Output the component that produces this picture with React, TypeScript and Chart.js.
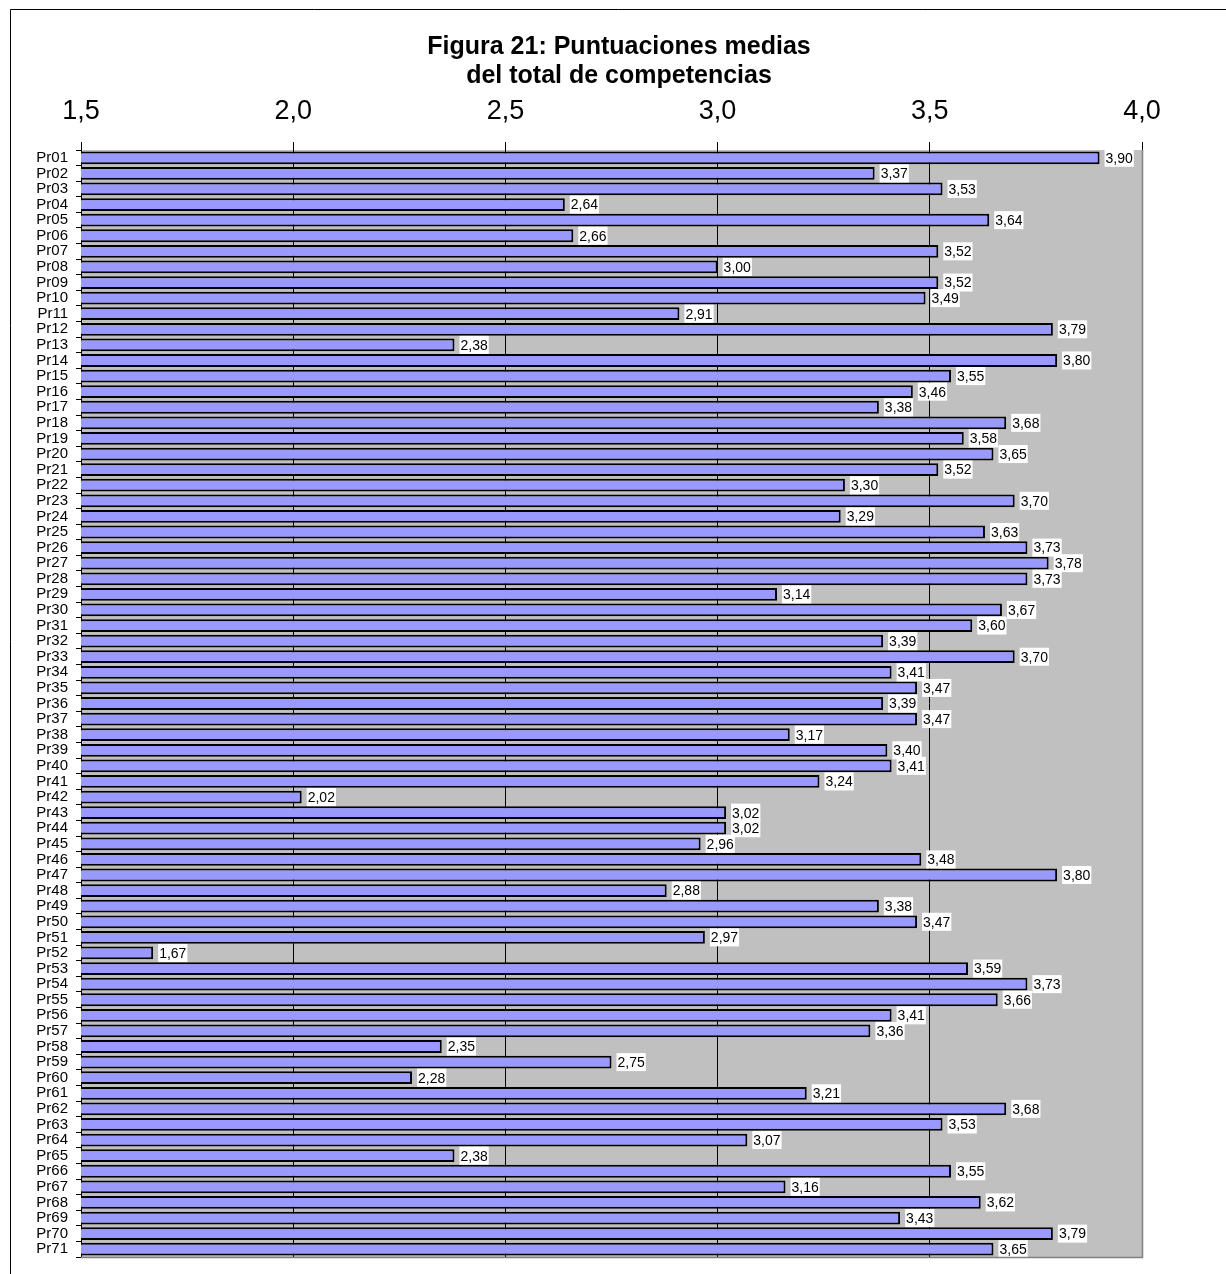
import React, { useEffect, useRef } from "react";
import { Chart, registerables } from "chart.js";

Chart.register(...registerables);

const TITLE_LINES = ["Figura 21: Puntuaciones medias", "del total de competencias"];

const CATEGORIES = [
  "Pr01","Pr02","Pr03","Pr04","Pr05","Pr06","Pr07","Pr08","Pr09","Pr10",
  "Pr11","Pr12","Pr13","Pr14","Pr15","Pr16","Pr17","Pr18","Pr19","Pr20",
  "Pr21","Pr22","Pr23","Pr24","Pr25","Pr26","Pr27","Pr28","Pr29","Pr30",
  "Pr31","Pr32","Pr33","Pr34","Pr35","Pr36","Pr37","Pr38","Pr39","Pr40",
  "Pr41","Pr42","Pr43","Pr44","Pr45","Pr46","Pr47","Pr48","Pr49","Pr50",
  "Pr51","Pr52","Pr53","Pr54","Pr55","Pr56","Pr57","Pr58","Pr59","Pr60",
  "Pr61","Pr62","Pr63","Pr64","Pr65","Pr66","Pr67","Pr68","Pr69","Pr70",
  "Pr71",
];

const MEANS = [
  3.90, 3.37, 3.53, 2.64, 3.64, 2.66, 3.52, 3.00, 3.52, 3.49,
  2.91, 3.79, 2.38, 3.80, 3.55, 3.46, 3.38, 3.68, 3.58, 3.65,
  3.52, 3.30, 3.70, 3.29, 3.63, 3.73, 3.78, 3.73, 3.14, 3.67,
  3.60, 3.39, 3.70, 3.41, 3.47, 3.39, 3.47, 3.17, 3.40, 3.41,
  3.24, 2.02, 3.02, 3.02, 2.96, 3.48, 3.80, 2.88, 3.38, 3.47,
  2.97, 1.67, 3.59, 3.73, 3.66, 3.41, 3.36, 2.35, 2.75, 2.28,
  3.21, 3.68, 3.53, 3.07, 2.38, 3.55, 3.16, 3.62, 3.43, 3.79,
  3.65,
];

const X_MIN = 1.5;
const X_MAX = 4.0;
const X_STEP = 0.5;

const FONT = 'Arial, "Liberation Sans", sans-serif';

const fmt = (v: number, d: number) => v.toFixed(d).replace(".", ",");

const backgroundPlugin = {
  id: "bgPlot",
  beforeDraw(chart: any) {
    const { ctx, chartArea, width, height } = chart;
    ctx.save();
    ctx.fillStyle = "#ffffff";
    ctx.fillRect(0, 0, width, height);
    ctx.fillStyle = "#C0C0C0";
    ctx.fillRect(chartArea.left, chartArea.top, chartArea.right - chartArea.left, chartArea.bottom - chartArea.top);
    ctx.strokeStyle = "#000000";
    ctx.lineWidth = 1;
    ctx.beginPath();
    ctx.moveTo(10.5, height);
    ctx.lineTo(10.5, 9.5);
    ctx.lineTo(width, 9.5);
    ctx.stroke();
    ctx.restore();
  },
  afterDraw(chart: any) {
    const { ctx, chartArea } = chart;
    ctx.save();
    ctx.strokeStyle = "#808080";
    ctx.lineWidth = 1.5;
    ctx.beginPath();
    ctx.moveTo(chartArea.left, chartArea.bottom + 0.5);
    ctx.lineTo(chartArea.right + 0.5, chartArea.bottom + 0.5);
    ctx.lineTo(chartArea.right + 0.5, chartArea.top);
    ctx.stroke();
    ctx.restore();
  },
};

const labelPlugin = {
  id: "valueLabels",
  afterDatasetsDraw(chart: any) {
    const { ctx } = chart;
    const meta = chart.getDatasetMeta(0);
    const data = chart.data.datasets[0].data as number[];
    ctx.save();
    ctx.font = `14px ${FONT}`;
    ctx.textBaseline = "middle";
    ctx.textAlign = "left";
    meta.data.forEach((bar: any, i: number) => {
      const text = fmt(data[i], 2);
      const w = ctx.measureText(text).width;
      const x0 = bar.x + 5;
      const h = 18;
      ctx.fillStyle = "#ffffff";
      ctx.fillRect(x0, bar.y - h / 2, w + 2, h);
      ctx.fillStyle = "#000000";
      ctx.fillText(text, x0 + 1, bar.y + 1);
    });
    ctx.restore();
  },
};

export default function App() {
  const canvasRef = useRef<HTMLCanvasElement | null>(null);

  useEffect(() => {
    document.body.style.margin = "0";
    document.body.style.overflow = "hidden";
    const canvas = canvasRef.current;
    if (!canvas) return;
    const chart = new Chart(canvas, {
      type: "bar",
      data: {
        labels: CATEGORIES,
        datasets: [
          {
            data: MEANS,
            backgroundColor: "#9999FF",
            borderColor: "#000000",
            borderWidth: 2,
            borderSkipped: false,
            barPercentage: 0.82,
            categoryPercentage: 1.0,
          },
        ],
      },
      options: {
        indexAxis: "y",
        animation: false,
        responsive: true,
        maintainAspectRatio: false,
        layout: { padding: { left: 12, right: 0, top: 0, bottom: 17 } },
        plugins: {
          legend: { display: false },
          tooltip: { enabled: false },
          title: {
            display: true,
            text: TITLE_LINES,
            color: "#000000",
            font: { family: FONT, size: 25, weight: "bold", lineHeight: "29px" },
            padding: { top: 33, bottom: 0 },
          },
        },
        scales: {
          x: {
            type: "linear",
            position: "top",
            min: X_MIN,
            max: X_MAX,
            ticks: {
              stepSize: X_STEP,
              color: "#000000",
              font: { family: FONT, size: 27 },
              padding: 14,
              callback: (v: any) => fmt(Number(v), 1),
            },
            grid: {
              color: (c: any) => (c.tick && c.tick.value === X_MAX ? "#808080" : "#000000"),
              tickColor: "#000000",
              tickLength: 8,
              lineWidth: 1,
            },
            border: { display: false },
            afterFit: (scale: any) => {
              scale.height = 59;
            },
          },
          y: {
            type: "category",
            position: "left",
            ticks: {
              color: "#000000",
              font: { family: FONT, size: 15 },
              padding: 8,
              autoSkip: false,
            },
            grid: {
              display: true,
              drawOnChartArea: false,
              offset: true,
              color: "#000000",
              tickLength: 5,
            },
            border: { display: true, color: "#000000", width: 1 },
            afterFit: (scale: any) => {
              scale.width = 69;
            },
          },
          y2: {
            type: "category",
            position: "right",
            display: true,
            ticks: { display: false },
            grid: { display: false },
            border: { display: false },
            afterFit: (scale: any) => {
              scale.width = 84;
            },
          },
        },
      },
      plugins: [backgroundPlugin, labelPlugin],
    } as any);
    return () => {
      chart.destroy();
    };
  }, []);

  return (
    <div style={{ position: "relative", width: "1226px", height: "1274px" }}>
      <canvas ref={canvasRef} />
    </div>
  );
}
